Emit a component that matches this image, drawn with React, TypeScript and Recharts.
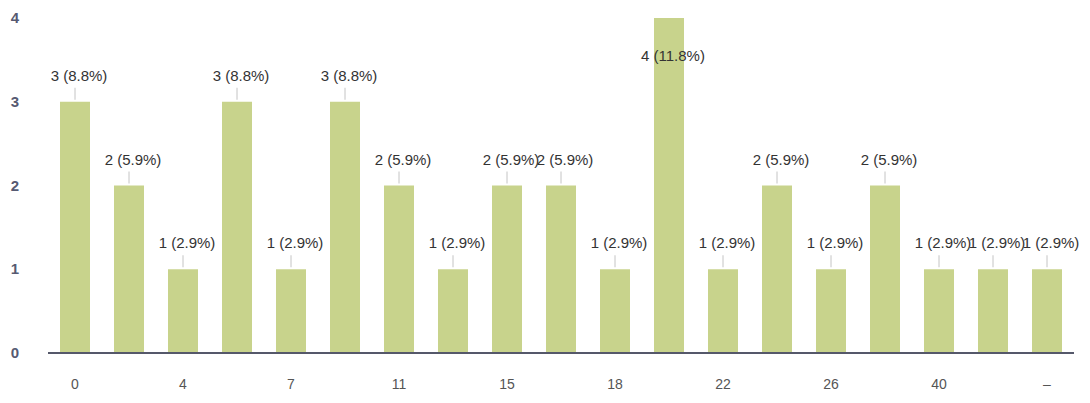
import { BarChart, Bar, XAxis, YAxis, LabelList } from "recharts";

const categories = ["0", "2", "4", "5", "7", "10", "11", "12", "15", "16", "18", "20", "22", "25", "26", "30", "40", "50", "–"];
const counts = [3, 2, 1, 3, 1, 3, 2, 1, 2, 2, 1, 4, 1, 2, 1, 2, 1, 1, 1];
const yTicks = [0, 1, 2, 3, 4];

const total = counts.reduce((a, b) => a + b, 0);
const data = categories.map((c, i) => ({ cat: c, count: counts[i] }));

const FONT = "'Liberation Sans', Arial, sans-serif";

const YTick = (props: any) => {
  const { y, payload } = props;
  return (
    <text x={15} y={y + 5} textAnchor="middle" fill="#565a72" fontSize={15} fontWeight="bold" fontFamily={FONT}>
      {payload.value}
    </text>
  );
};

const BarLabel = (props: any) => {
  const { x, y, width, value } = props;
  const cx = x + width / 2;
  const pct = ((value / total) * 100).toFixed(1);
  const inside = value >= 4;
  const ty = inside ? y + 43 : y - 21;
  return (
    <g>
      {!inside && <line x1={cx} x2={cx} y1={y - 14} y2={y - 2} stroke="#c4c4c4" strokeWidth={1} />}
      <text x={cx + 4} y={ty} textAnchor="middle" fill="#333" fontSize={15} fontFamily={FONT}>
        {`${value} (${pct}%)`}
      </text>
    </g>
  );
};

export default function App() {
  return (
    <div style={{ position: "absolute", left: 0, top: 0, background: "#fff" }}>
      <BarChart width={1090} height={403} data={data} margin={{ top: 18, right: 16, left: 0, bottom: 0 }}>
        <XAxis
          dataKey="cat"
          interval={1}
          tickLine={false}
          axisLine={{ stroke: "#55586a", strokeWidth: 2 }}
          tick={{ fill: "#555", fontSize: 14, fontFamily: FONT }}
          tickMargin={20}
          height={50}
        />
        <YAxis
          domain={[0, 4]}
          ticks={yTicks}
          width={48}
          axisLine={false}
          tickLine={false}
          tick={<YTick />}
        />
        <Bar dataKey="count" fill="#c8d38c" barSize={30} isAnimationActive={false}>
          <LabelList dataKey="count" content={<BarLabel />} />
        </Bar>
      </BarChart>
    </div>
  );
}
